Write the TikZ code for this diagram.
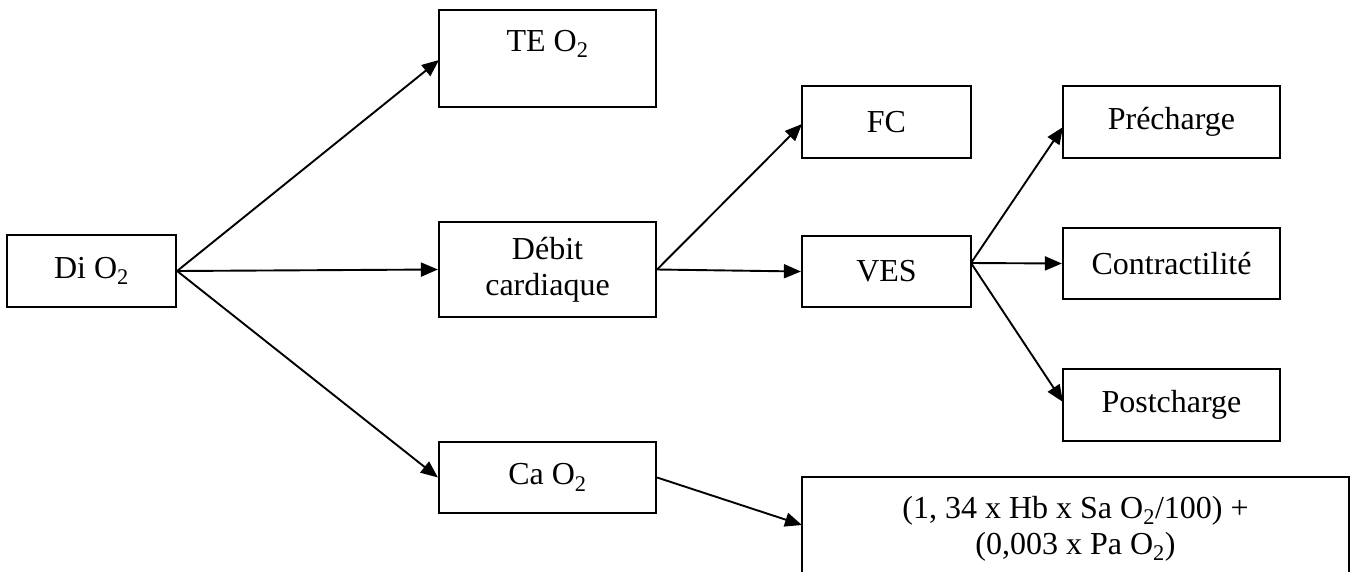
\documentclass[tikz,border=0pt]{standalone}
\usepackage{fontspec}
\setmainfont{Liberation Serif}
\usetikzlibrary{arrows.meta}
\begin{document}
\begin{tikzpicture}[x=1pt,y=-1pt,
  box/.style={draw, line width=2.2pt, rectangle, inner sep=0pt, align=center,
    font=\fontsize{32}{36}\selectfont},
  arr/.style={line width=1.9pt, -{Triangle[length=17pt,width=14pt]}}]
\useasboundingbox (0,0) rectangle (1357,571);
\clip (0,0) rectangle (1357,571);
\node[box, minimum width=169pt, minimum height=72pt] (di) at (91.5,271) {Di O\textsubscript{2}};
\node[box, minimum width=217pt, minimum height=97pt] (te) at (547.5,58.5) {TE O\textsubscript{2}\\\mbox{}};
\node[box, minimum width=217pt, minimum height=95pt] (deb) at (547.5,269.5) {Débit\\cardiaque};
\node[box, minimum width=217pt, minimum height=71pt] (ca) at (547.5,477.5) {Ca O\textsubscript{2}};
\node[box, minimum width=169pt, minimum height=72pt] (fc) at (886.5,122) {FC};
\node[box, minimum width=169pt, minimum height=71pt] (ves) at (886.5,271.5) {VES};
\node[box, minimum width=217pt, minimum height=72pt] (pre) at (1171.5,122) {Précharge};
\node[box, minimum width=217pt, minimum height=71pt] (con) at (1171.5,263.5) {Contractilité};
\node[box, minimum width=217pt, minimum height=72pt] (post) at (1171.5,405) {Postcharge};
\node[box, minimum width=547pt, minimum height=104pt] (form) at (1075.5,529)
  {(1, 34 x Hb x Sa O\textsubscript{2}/100) +\\(0,003 x Pa O\textsubscript{2})};
\coordinate (vo) at (971,263);
\coordinate (formin) at (802,525);
\coordinate (tein) at (439,60);
\coordinate (fcin) at (802,124);
\coordinate (prein) at (1063,127);
\coordinate (postin) at (1063,402);
\draw[arr] (di.east) -- (tein);
\draw[arr] (di.east) -- (deb.west);
\draw[arr] (di.east) -- (ca.west);
\draw[arr] (deb.east) -- (fcin);
\draw[arr] (deb.east) -- (ves.west);
\draw[arr] (ca.east) -- (formin);
\draw[arr] (vo) -- (prein);
\draw[arr] (vo) -- (con.west);
\draw[arr] (vo) -- (postin);
\end{tikzpicture}
\end{document}
